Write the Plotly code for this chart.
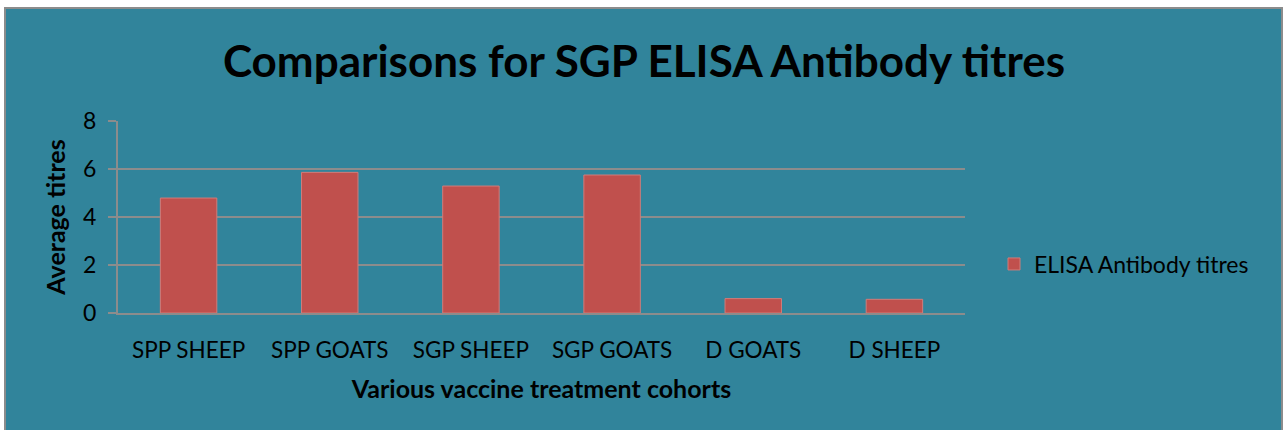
import plotly.graph_objects as go

categories = ["SPP SHEEP", "SPP GOATS", "SGP SHEEP", "SGP GOATS", "D GOATS", "D SHEEP"]
titres = [4.79, 5.86, 5.29, 5.75, 0.60, 0.57]
series_name = "ELISA Antibody titres"

W, H = 1288, 430
L, R, T, B = 118, 323, 121, 117
pw, ph = W - L - R, H - T - B

def px(x):
    return (x - L) / pw

def py(y):
    return (H - B - y) / ph

FONT = "Lato"
TEAL = "#31849B"

fig = go.Figure(go.Bar(
    x=categories, y=titres, name=series_name,
    marker=dict(color="#C0504D", line=dict(color="#D07C7A", width=1)),
    width=0.4, showlegend=True,
))

fig.update_layout(
    width=W, height=H,
    margin=dict(l=L, r=R, t=T, b=B, autoexpand=False),
    paper_bgcolor="white", plot_bgcolor="white",
    font=dict(family=FONT, color="black", size=22),
    title=dict(text="<b>Comparisons for SGP ELISA Antibody titres</b>",
               x=0.5, xanchor="center", y=1 - 62 / H, yanchor="middle",
               font=dict(size=44, family=FONT, color="black")),
    showlegend=True,
    legend=dict(x=px(994), y=py(264), xanchor="left", yanchor="middle",
                bgcolor="rgba(0,0,0,0)", font=dict(size=23, family=FONT),
                itemwidth=30),
    shapes=[dict(type="rect", xref="paper", yref="paper",
                 x0=px(5), x1=px(1282), y0=py(440), y1=py(8),
                 fillcolor=TEAL, line=dict(color="#8C8C8C", width=2),
                 layer="below")],
    bargap=0.6,
)

fig.update_xaxes(
    showline=True, linecolor="#8C8C8C", linewidth=2,
    ticks="outside", ticklen=16, tickcolor="rgba(0,0,0,0)",
    tickfont=dict(size=22.5, family=FONT),
    title=dict(text="<b>Various vaccine treatment cohorts</b>", standoff=18,
               font=dict(size=25, family=FONT)),
    showgrid=False,
)
fig.update_yaxes(
    range=[0, 8], dtick=2, showline=True, linecolor="#8C8C8C", linewidth=2,
    ticks="outside", ticklen=8, tickcolor="#8C8C8C", tickwidth=2,
    ticklabelstandoff=7,
    gridcolor="#8C8C8C", gridwidth=2,
    tickfont=dict(size=23, family=FONT),
    title=dict(text="<b>Average titres</b>", standoff=10,
               font=dict(size=25, family=FONT)),
    zeroline=False,
)

fig.write_html("out.html")
